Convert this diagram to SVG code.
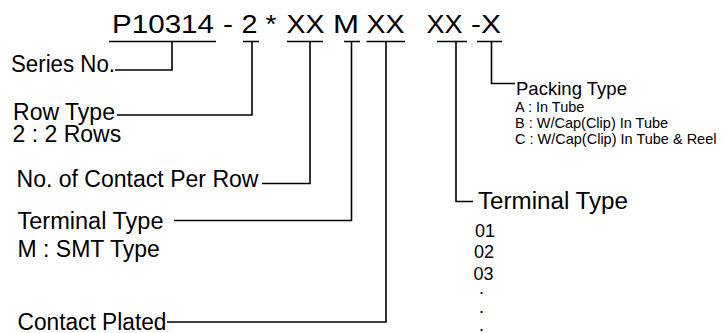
<svg xmlns="http://www.w3.org/2000/svg" width="725" height="333" viewBox="0 0 725 333">
<style>
text{font-family:"Liberation Sans",Arial,Helvetica,sans-serif;fill:#000}
.code{font-size:25px}
.lbl{font-size:23px}
.sm{font-size:14.5px}
.num{font-size:18px}
.ln{fill:none;stroke:#000;stroke-width:1.6}
</style>
<rect width="725" height="333" fill="#fff"/>
<g id="code">
<text class="code" x="112" y="33" textLength="102" lengthAdjust="spacingAndGlyphs">P10314</text>
<text class="code" x="223" y="33" textLength="10" lengthAdjust="spacingAndGlyphs">-</text>
<text class="code" x="241.5" y="33" textLength="16" lengthAdjust="spacingAndGlyphs">2</text>
<text class="code" x="265.5" y="33" textLength="11" lengthAdjust="spacingAndGlyphs">*</text>
<text class="code" x="286.5" y="33" textLength="38" lengthAdjust="spacingAndGlyphs">XX</text>
<text class="code" x="333" y="33" textLength="26" lengthAdjust="spacingAndGlyphs">M</text>
<text class="code" x="366.5" y="33" textLength="38" lengthAdjust="spacingAndGlyphs">XX</text>
<text class="code" x="426.5" y="33" textLength="36" lengthAdjust="spacingAndGlyphs">XX</text>
<text class="code" x="471" y="33" textLength="30" lengthAdjust="spacingAndGlyphs">-X</text>
</g>
<g id="series"><text class="lbl" x="11" y="72" textLength="104" lengthAdjust="spacingAndGlyphs">Series No.</text></g>
<g id="row-type"><text class="lbl" x="13" y="120" textLength="102" lengthAdjust="spacingAndGlyphs">Row Type</text><text class="lbl" x="12.5" y="142">2 : 2 Rows</text></g>
<g id="contact-per-row"><text class="lbl" x="16.5" y="187" textLength="242" lengthAdjust="spacingAndGlyphs">No. of Contact Per Row</text></g>
<g id="terminal-type-m"><text class="lbl" x="17.5" y="228.5" textLength="146" lengthAdjust="spacingAndGlyphs">Terminal Type</text><text class="lbl" x="17.5" y="257">M : SMT Type</text></g>
<g id="contact-plated"><text class="lbl" x="17.5" y="330" textLength="149" lengthAdjust="spacingAndGlyphs">Contact Plated</text></g>
<g id="terminal-type-xx"><text class="lbl" x="478" y="209" textLength="150" lengthAdjust="spacingAndGlyphs">Terminal  Type</text>
<text class="num" x="475" y="236.5">01</text>
<text class="num" x="474" y="257.5">02</text>
<text class="num" x="473.5" y="280">03</text>
<text class="num" x="479" y="294">.</text>
<text class="num" x="479" y="312.5">.</text>
<text class="num" x="479" y="330.5">.</text>
</g>
<g id="packing-type"><text x="516" y="95" font-size="19px" textLength="111" lengthAdjust="spacingAndGlyphs">Packing Type</text>
<text class="sm" x="515" y="112">A : In Tube</text>
<text class="sm" x="515" y="127.5">B : W/Cap(Clip) In Tube</text>
<text class="sm" x="515" y="143.5">C : W/Cap(Clip) In Tube &amp; Reel</text>
</g>
<g id="connectors" class="ln">
<path class="ln" d="M109 41.5H216M172 41.5V70H115"/>
<path class="ln" d="M243 41.5H259M252 41.5V115H117"/>
<path class="ln" d="M287 41.5H323M310 41.5V183.5H262"/>
<path class="ln" d="M344 41.5H360M351.5 41.5V220.5H174"/>
<path class="ln" d="M366.5 41.5H405M386 41.5V322H167"/>
<path class="ln" d="M437 41.5H467M456 41.5V201.5H473"/>
<path class="ln" d="M477 41.5H502M491.5 41.5V83.5H515"/>
</g>
</svg>
